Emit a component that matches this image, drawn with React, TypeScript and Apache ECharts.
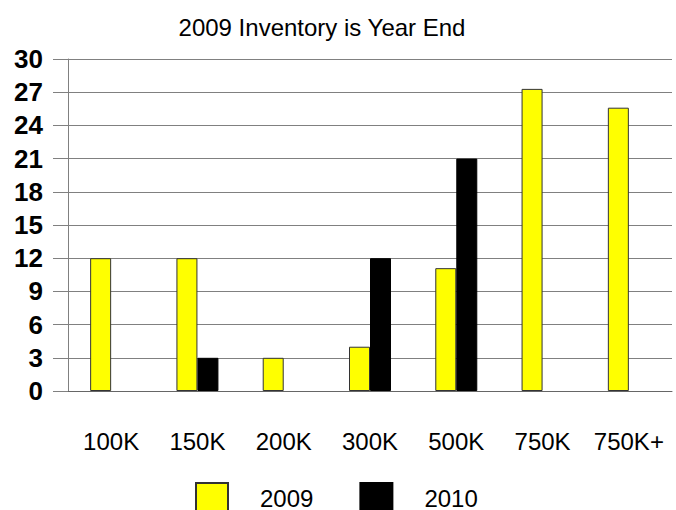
import React, { useEffect, useRef } from "react";
import * as echarts from "echarts";

const categories = ["100K", "150K", "200K", "300K", "500K", "750K", "750K+"];
const values2009 = [12, 12, 3, 4, 11.1, 27.3, 25.6];
const values2010 = [0, 3, 0, 12, 21, 0, 0];
const seriesNames = ["2009", "2010"];
const titleText = "2009 Inventory is Year End";

const FONT = "'Liberation Sans', Arial, sans-serif";

const hideZero = (arr: number[]) => arr.map((v) => (v === 0 ? "-" : v));

export default function App() {
  const ref = useRef<HTMLDivElement>(null);
  useEffect(() => {
    const chart = echarts.init(ref.current!, null, { renderer: "svg" });
    chart.setOption({
      animation: false,
      backgroundColor: "#ffffff",
      title: {
        text: titleText,
        left: 317,
        textAlign: "center",
        top: 10,
        textStyle: { fontFamily: FONT, fontSize: 24, fontWeight: "normal", color: "#000" },
      },
      legend: {
        data: seriesNames,
        left: 190,
        top: 477,
        icon: "rect",
        itemWidth: 32,
        itemHeight: 30,
        itemGap: 46,
        textStyle: {
          fontFamily: FONT,
          fontSize: 24,
          lineHeight: 24,
          color: "#000",
          padding: [0, 0, 0, 27],
        },
      },
      grid: { left: 68, right: 4, top: 59, bottom: 119 },
      xAxis: {
        type: "category",
        data: categories,
        axisLine: { lineStyle: { color: "#666", width: 1 } },
        axisTick: { alignWithLabel: true, length: 15, lineStyle: { color: "#808080" } },
        axisLabel: { interval: 0, fontFamily: FONT, fontSize: 24, color: "#000", margin: 38 },
      },
      yAxis: {
        type: "value",
        min: 0,
        max: 30,
        interval: 3,
        axisLine: { show: true, lineStyle: { color: "#808080" } },
        axisTick: { show: true, length: 15, lineStyle: { color: "#808080" } },
        axisLabel: { fontFamily: FONT, fontSize: 26, fontWeight: "bold", color: "#000", margin: 25 },
        splitLine: { lineStyle: { color: "#808080", width: 1 } },
      },
      series: [
        {
          name: seriesNames[0],
          type: "bar",
          data: hideZero(values2009),
          barWidth: 21,
          barGap: "0%",
          itemStyle: { color: "#ffff00", borderColor: "#333", borderWidth: 1 },
        },
        {
          name: seriesNames[1],
          type: "bar",
          data: hideZero(values2010),
          barWidth: 21,
          barGap: "0%",
          itemStyle: { color: "#000000", borderColor: "#000", borderWidth: 1 },
        },
      ],
    });
    return () => chart.dispose();
  }, []);
  return (
    <div
      ref={ref}
      style={{ position: "fixed", left: 0, top: 0, width: 676, height: 510 }}
    />
  );
}
